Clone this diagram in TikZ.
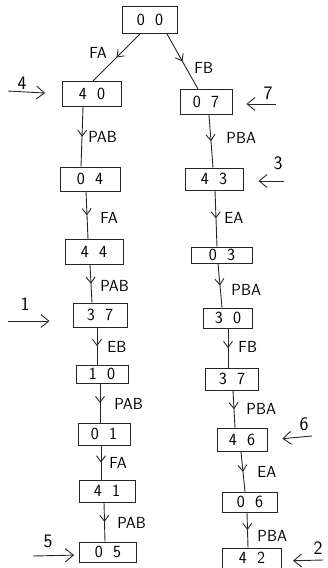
\documentclass[tikz,border=0pt]{standalone}
\usetikzlibrary{arrows.meta,decorations.markings}
\begin{document}
\begin{tikzpicture}[x=1pt,y=-1pt,
  line width=0.9pt,
  statebox/.style={draw=black!85, rectangle, minimum width=55pt, minimum height=22pt,
    inner sep=0pt, font=\sffamily\fontsize{17}{17}\selectfont},
  move/.style={draw=black!85, postaction={decorate},
    decoration={markings, mark=at position 0.5 with {\arrow{Straight Barb[length=6pt,width=9pt]}}}},
  lbl/.style={font=\sffamily\fontsize{16}{16}\selectfont, inner sep=0pt, anchor=west},
  pointer/.style={draw=black!85, -{Straight Barb[length=8pt,width=13pt]}},
  rank/.style={font=\sffamily\fontsize{19}{19}\selectfont, inner sep=0pt}
]
\useasboundingbox (0,0) rectangle (327,568);
\newcommand{\pair}[2]{#1\hspace{0.6em}#2}

% root state
\node[statebox, minimum height=27pt] (s00) at (150,20) {\pair00};

% left branch
\node[statebox, minimum width=59pt, minimum height=25pt] (s40)  at (92,94)  {\pair40};
\node[statebox, minimum width=60pt, minimum height=24pt] (s04)  at (90,179) {\pair04};
\node[statebox, minimum width=58pt, minimum height=25pt] (s44)  at (94,252) {\pair44};
\node[statebox, minimum width=54pt, minimum height=24pt] (s37a) at (100,315) {\pair37};
\node[statebox, minimum width=52pt, minimum height=18pt] (s10)  at (102,374) {\pair10};
\node[statebox, minimum width=52pt, minimum height=22pt] (s01)  at (104,434) {\pair01};
\node[statebox, minimum width=56pt, minimum height=22pt] (s41)  at (107,491) {\pair41};
\node[statebox, minimum width=57pt, minimum height=20pt] (s05)  at (108,552) {\pair05};

% right branch
\node[statebox, minimum width=52pt, minimum height=25pt] (s07)  at (206,102) {\pair07};
\node[statebox, minimum width=58pt, minimum height=22pt] (s43)  at (214,179) {\pair43};
\node[statebox, minimum width=61pt, minimum height=16pt] (s03)  at (222,255) {\pair03};
\node[statebox, minimum width=49pt, minimum height=20pt] (s30)  at (228,318) {\pair30};
\node[statebox, minimum width=53pt, minimum height=22pt] (s37b) at (232,379) {\pair37};
\node[statebox, minimum width=50pt, minimum height=23pt] (s46)  at (242,440) {\pair46};
\node[statebox, minimum width=55pt, minimum height=20pt] (s06)  at (250,502) {\pair06};
\node[statebox, minimum width=59pt, minimum height=20pt] (s42)  at (252,558) {\pair42};

% transitions
\draw[move] ([xshift=-10pt]s00.south) -- ([xshift=1pt]s40.north);
\draw[move] ([xshift=17pt]s00.south) -- ([xshift=-8pt]s07.north);

\draw[move] ([xshift=-9pt]s40.south)  -- ([xshift=-9pt]s04.north);
\draw[move] ([xshift=-4pt]s04.south)  -- ([xshift=-6pt]s44.north);
\draw[move] ([xshift=-4pt]s44.south)  -- ([xshift=-8pt]s37a.north);
\draw[move] ([xshift=-3pt]s37a.south) -- ([xshift=-5pt]s10.north);
\draw[move] ([xshift=-2pt]s10.south)  -- ([xshift=-4pt]s01.north);
\draw[move] ([xshift=-3pt]s01.south)  -- ([xshift=-6pt]s41.north);
\draw[move] ([xshift=-3pt]s41.south)  -- ([xshift=-3pt]s05.north);

\draw[move] ([xshift=3pt]s07.south)  -- ([xshift=-1pt]s43.north);
\draw[move] ([xshift=1pt]s43.south)  -- ([xshift=-5pt]s03.north);
\draw[move] ([xshift=-4pt]s03.south) -- ([xshift=-6pt]s30.north);
\draw[move] (s30.south)              -- ([xshift=-4pt]s37b.north);
\draw[move] ([xshift=1pt]s37b.south) -- ([xshift=-7pt]s46.north);
\draw[move] ([xshift=-1pt]s46.south) -- ([xshift=-5pt]s06.north);
\draw[move] ([xshift=-3pt]s06.south) -- ([xshift=-4pt]s42.north);

% transition labels
\node[lbl] (tFA0)  at (89,53)   {FA};
\node[lbl] (tFB0)  at (194,68)  {FB};
\node[lbl] (tPAB1) at (88,137)  {PAB};
\node[lbl] (tFA1)  at (100,218) {FA};
\node[lbl] (tPAB2) at (100,286) {PAB};
\node[lbl] (tEB)   at (107,347) {EB};
\node[lbl] (tPAB3) at (114,404) {PAB};
\node[lbl] (tFA2)  at (109,463) {FA};
\node[lbl] (tPAB4) at (117,523) {PAB};

\node[lbl] (tPBA1) at (226,138) {PBA};
\node[lbl] (tEA1)  at (224,218) {EA};
\node[lbl] (tPBA2) at (231,290) {PBA};
\node[lbl] (tFB1)  at (238,347) {FB};
\node[lbl] (tPBA3) at (246,409) {PBA};
\node[lbl] (tEA2)  at (257,472) {EA};
\node[lbl] (tPBA4) at (257,536) {PBA};

% order markers
\node[rank] (r4) at (22,83)  {4};
\coordinate (p4) at (8,91);
\draw[pointer, shorten >=17pt] (p4) -- (s40.west);

\node[rank] (r1) at (25,304) {1};
\coordinate (p1) at (8,321);
\draw[pointer, shorten >=23pt] (p1) -- ([yshift=-6pt]s37a.west);

\node[rank] (r5) at (48,541) {5};
\coordinate (p5) at (33,556);
\draw[pointer, shorten >=5pt] (p5) -- ([yshift=-3pt]s05.west);

\node[rank] (r7) at (268,93) {7};
\coordinate (p7) at (276,104);
\draw[pointer, shorten >=14pt] (p7) -- ([yshift=-2pt]s07.east);

\node[rank] (r3) at (278,163) {3};
\coordinate (p3) at (284,181);
\draw[pointer, shorten >=15pt] (p3) -- ([yshift=-2pt]s43.east);

\node[rank] (r6) at (304,424) {6};
\coordinate (p6) at (312,436);
\draw[pointer, shorten >=15pt] (p6) -- (s46.east);

\node[rank] (r2) at (318,548) {2};
\coordinate (p2) at (323,560);
\draw[pointer, shorten >=11pt] (p2) -- ([yshift=-3pt]s42.east);
\end{tikzpicture}
\end{document}
